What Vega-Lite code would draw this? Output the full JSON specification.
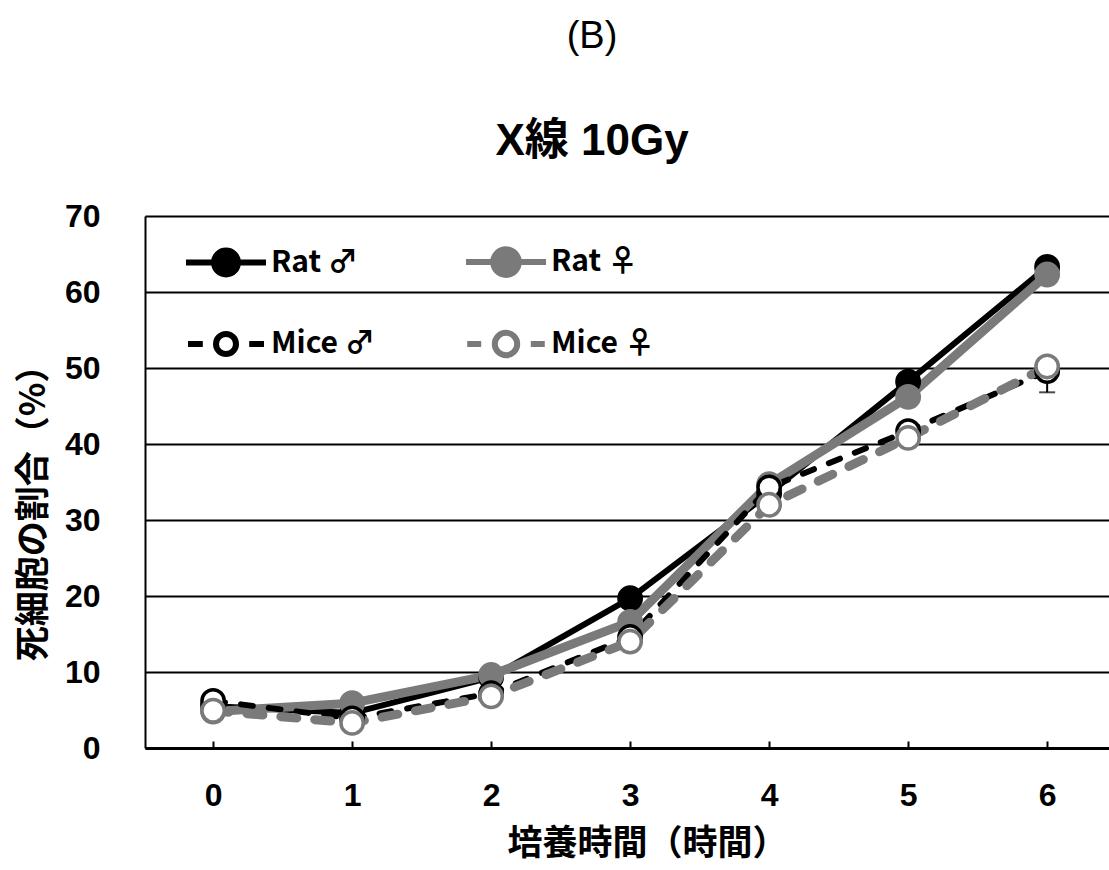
{
  "$schema": "https://vega.github.io/schema/vega-lite/v6.json",
  "autosize": "none",
  "width": 964,
  "height": 532,
  "padding": {"left": 145, "top": 216, "right": 0, "bottom": 122},
  "background": "white",
  "title": {
    "text": "(B)",
    "subtitle": "X線 10Gy",
    "anchor": "middle",
    "dx": -35,
    "font": "Liberation Sans Narrow, Liberation Sans, DejaVu Sans",
    "fontSize": 38,
    "fontWeight": "normal",
    "color": "black",
    "subtitleFont": "Liberation Sans, Noto Sans CJK JP",
    "subtitleFontSize": 44,
    "subtitleFontWeight": "bold",
    "subtitleColor": "black",
    "subtitlePadding": 64,
    "offset": 36
  },
  "datasets": {
    "series": [
      {"t": 0, "series": "Rat ♂", "v": 5.5},
      {"t": 1, "series": "Rat ♂", "v": 4.6},
      {"t": 2, "series": "Rat ♂", "v": 9.3},
      {"t": 3, "series": "Rat ♂", "v": 19.7},
      {"t": 4, "series": "Rat ♂", "v": 33.5},
      {"t": 5, "series": "Rat ♂", "v": 48.2},
      {"t": 6, "series": "Rat ♂", "v": 63.3},
      {"t": 0, "series": "Rat ♀", "v": 4.8},
      {"t": 1, "series": "Rat ♀", "v": 5.9},
      {"t": 2, "series": "Rat ♀", "v": 9.6},
      {"t": 3, "series": "Rat ♀", "v": 16.6},
      {"t": 4, "series": "Rat ♀", "v": 34.7},
      {"t": 5, "series": "Rat ♀", "v": 46.2},
      {"t": 6, "series": "Rat ♀", "v": 62.3},
      {"t": 0, "series": "Mice ♂", "v": 6.2},
      {"t": 1, "series": "Mice ♂", "v": 3.9},
      {"t": 2, "series": "Mice ♂", "v": 7.2},
      {"t": 3, "series": "Mice ♂", "v": 14.6},
      {"t": 4, "series": "Mice ♂", "v": 34.3},
      {"t": 5, "series": "Mice ♂", "v": 41.7},
      {"t": 6, "series": "Mice ♂", "v": 49.6},
      {"t": 0, "series": "Mice ♀", "v": 4.9},
      {"t": 1, "series": "Mice ♀", "v": 3.3},
      {"t": 2, "series": "Mice ♀", "v": 6.8},
      {"t": 3, "series": "Mice ♀", "v": 14.0},
      {"t": 4, "series": "Mice ♀", "v": 32.0},
      {"t": 5, "series": "Mice ♀", "v": 40.8},
      {"t": 6, "series": "Mice ♀", "v": 50.2}
    ],
    "err": [
      {"t": 6, "series": "Mice ♂", "v": 49.6, "lo": 46.8}
    ]
  },
  "config": {
    "view": {"stroke": null},
    "axis": {
      "labelFont": "Liberation Sans, DejaVu Sans",
      "labelFontSize": 32,
      "labelFontWeight": "bold",
      "labelColor": "black",
      "titleFont": "Noto Sans CJK JP",
      "titleFontSize": 35,
      "titleFontWeight": "bold",
      "titleColor": "black",
      "domainColor": "black",
      "tickColor": "black",
      "gridColor": "black"
    }
  },
  "encoding": {
    "x": {
      "field": "t",
      "type": "quantitative",
      "scale": {"domain": [-0.49, 6.445], "nice": false, "zero": false},
      "axis": {
        "values": [0, 1, 2, 3, 4, 5, 6],
        "format": "d",
        "title": "培養時間（時間）",
        "titleX": 502,
        "titleY": 95,
        "titleAlign": "center",
        "titleBaseline": "middle",
        "grid": false,
        "domainWidth": 3,
        "ticks": true,
        "tickSize": -7,
        "tickWidth": 2,
        "labelPadding": 39,
        "labelFlush": false
      }
    },
    "y": {
      "field": "v",
      "type": "quantitative",
      "scale": {"domain": [0, 70], "nice": false},
      "axis": {
        "values": [0, 10, 20, 30, 40, 50, 60, 70],
        "title": "死細胞の割合（%）",
        "titleAngle": -90,
        "titleX": -112,
        "titleY": 288,
        "titleAlign": "center",
        "titleBaseline": "middle",
        "grid": true,
        "gridWidth": 2,
        "domainWidth": 2,
        "ticks": false,
        "labelPadding": 45,
        "labelBaseline": "middle"
      }
    }
  },
  "layer": [
    {
      "data": {"name": "series"},
      "transform": [{"filter": "datum.series == 'Rat ♂'"}],
      "mark": {"type": "line", "color": "#000000", "strokeWidth": 6, "strokeCap": "round", "strokeJoin": "round"},
      "encoding": {}
    },
    {
      "data": {"name": "series"},
      "transform": [{"filter": "datum.series == 'Rat ♀'"}],
      "mark": {"type": "line", "color": "#7a7a7a", "strokeWidth": 9, "strokeCap": "round", "strokeJoin": "round"},
      "encoding": {}
    },
    {
      "data": {"name": "series"},
      "transform": [{"filter": "datum.series == 'Mice ♂'"}],
      "mark": {"type": "line", "color": "#000000", "strokeWidth": 6, "strokeCap": "round", "strokeJoin": "round", "strokeDash": [12, 16]},
      "encoding": {}
    },
    {
      "data": {"name": "series"},
      "transform": [{"filter": "datum.series == 'Mice ♀'"}],
      "mark": {"type": "line", "color": "#7a7a7a", "strokeWidth": 9, "strokeCap": "round", "strokeJoin": "round", "strokeDash": [16, 18]},
      "encoding": {}
    },
    {
      "data": {"name": "err"},
      "mark": {"type": "rule", "color": "black", "strokeWidth": 2},
      "encoding": {
        "y": {"field": "lo", "type": "quantitative"},
        "y2": {"field": "v"}
      }
    },
    {
      "data": {"name": "err"},
      "mark": {"type": "tick", "orient": "horizontal", "color": "black", "size": 16, "thickness": 2},
      "encoding": {
        "y": {"field": "lo", "type": "quantitative"}
      }
    },
    {
      "data": {"name": "series"},
      "mark": {"type": "point", "shape": "circle", "filled": true, "size": 500, "strokeWidth": 3.5, "opacity": 1},
      "encoding": {
        "fill": {
          "field": "series",
          "type": "nominal",
          "scale": {"domain": ["Rat ♂", "Rat ♀", "Mice ♂", "Mice ♀"], "range": ["#000000", "#7a7a7a", "#ffffff", "#ffffff"]}
        },
        "stroke": {
          "field": "series",
          "type": "nominal",
          "scale": {"domain": ["Rat ♂", "Rat ♀", "Mice ♂", "Mice ♀"], "range": ["#000000", "#7a7a7a", "#000000", "#7a7a7a"]}
        }
      }
    },
    {
      "data": {"name": "series"},
      "transform": [{"filter": "false"}],
      "mark": {"type": "point", "filled": true},
      "encoding": {
        "shape": {
          "field": "series",
          "type": "nominal",
          "scale": {
            "domain": ["Rat ♂", "Rat ♀", "Mice ♂", "Mice ♀"],
            "range": [
              "M-1,0L-0.3,0M0.3,0L1,0M0.3,0A0.3,0.3,0,1,1,-0.3,0A0.3,0.3,0,1,1,0.3,0Z",
              "M-1,0L-0.32,0M0.32,0L1,0M0.32,0A0.32,0.32,0,1,1,-0.32,0A0.32,0.32,0,1,1,0.32,0Z",
              "M-0.95,0L-0.58,0M0.58,0L0.95,0M0.25,0A0.25,0.25,0,1,1,-0.25,0A0.25,0.25,0,1,1,0.25,0Z",
              "M-0.97,0L-0.62,0M0.62,0L0.97,0M0.28,0A0.28,0.28,0,1,1,-0.28,0A0.28,0.28,0,1,1,0.28,0Z"
            ]
          },
          "legend": {
            "title": null,
            "orient": "none",
            "legendX": 38,
            "legendY": 3,
            "direction": "horizontal",
            "columns": 2,
            "columnPadding": 79,
            "rowPadding": 14,
            "padding": 0,
            "symbolSize": 6400,
            "symbolStrokeWidth": 6,
            "symbolOpacity": 1,
            "labelFont": "Noto Sans CJK JP",
            "labelFontSize": 30,
            "labelFontWeight": "bold",
            "labelColor": "black",
            "labelOffset": 2,
            "labelLimit": 300
          }
        },
        "fill": {"field": "series", "type": "nominal"},
        "stroke": {"field": "series", "type": "nominal"}
      }
    }
  ]
}
